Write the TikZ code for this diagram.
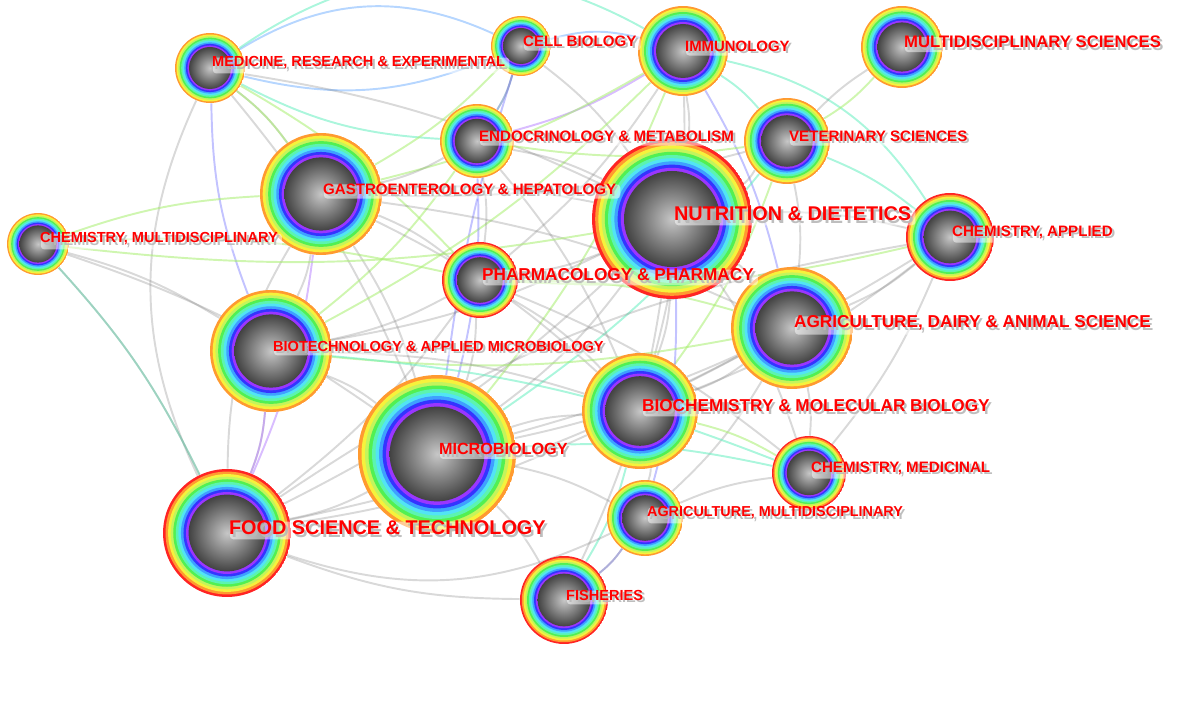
\documentclass[tikz,border=0pt]{standalone}
\usepackage{fontspec}
\setmainfont{Liberation Sans}
\usepackage{tikz}
\usetikzlibrary{calc}
\pgfdeclarelayer{background}
\pgfsetlayers{background,main}
\definecolor{rgred}{HTML}{FF2424}
\definecolor{rgorange}{HTML}{FF9A30}
\definecolor{rgyellow}{HTML}{F6F23C}
\definecolor{rglime}{HTML}{C4F45C}
\definecolor{rggreen}{HTML}{52F052}
\definecolor{rgmint}{HTML}{5CF4B0}
\definecolor{rgcyan}{HTML}{52E4F4}
\definecolor{rgsky}{HTML}{3FA0FF}
\definecolor{rgblue}{HTML}{3434FF}
\definecolor{rgpurple}{HTML}{9A36FF}
\definecolor{eglime}{HTML}{A8EE70}
\definecolor{egmint}{HTML}{66EEC0}
\definecolor{egsky}{HTML}{7AB4FF}
\definecolor{egblue}{HTML}{8888FF}
\definecolor{egpurple}{HTML}{B47CFF}
% concentric year rings: radius (px), ring step, colours
\newcommand{\rings}[3]{%
  \foreach \c [count=\i] in {#3}{%
    \pgfmathsetmacro{\rr}{#1*(1-#2*(\i-1))*0.02}%
    \fill[\c] (path picture bounding box.center) circle[radius=\rr cm];}%
  \pgfmathsetmacro{\rr}{#1*0.6*0.02}%
  \shade[inner color=black!22, outer color=black!74] (path picture bounding box.center) circle[radius=\rr cm];}
% label with its shadow
\newcommand{\tagit}[3]{%
  \node[tagsh, font=\fontsize{#2}{#2}\selectfont\bfseries] (#1-sh) at ([xshift=1.4pt, yshift=0.05cm]#1.center) {#3};
  \node[tagtx, font=\fontsize{#2}{#2}\selectfont\bfseries] (#1-tag) at ([yshift=0.1cm]#1.center) {#3};}

\begin{document}
\begin{tikzpicture}[x=0.02cm, y=-0.02cm,
    hub/.style={circle, inner sep=0pt, minimum size=#1*0.04cm,
      path picture={\rings{#1}{0.04}{rgred,rgorange,rgyellow,rglime,rggreen,rgmint,rgcyan,rgsky,rgblue,rgpurple}}},
    hubo/.style={circle, inner sep=0pt, minimum size=#1*0.04cm,
      path picture={\rings{#1}{0.0444}{rgorange,rgyellow,rglime,rggreen,rgmint,rgcyan,rgsky,rgblue,rgpurple}}},
    tagsh/.style={anchor=west, inner sep=1pt, text=black!28, fill=white, fill opacity=.5, text opacity=.9, rounded corners=2pt},
    tagtx/.style={anchor=west, inner sep=1pt, text=red},
    lim/.style={draw=eglime, draw opacity=.55},
    mnt/.style={draw=egmint, draw opacity=.55},
    sky/.style={draw=egsky, draw opacity=.55},
    blu/.style={draw=egblue, draw opacity=.5},
    prp/.style={draw=egpurple, draw opacity=.5}]
  \useasboundingbox (0,0) rectangle (1188,716);

  \node[hubo=35] (med) at (210,68) {};
  \node[hubo=30] (cell) at (521,46) {};
  \node[hubo=45] (immu) at (683,51) {};
  \node[hubo=41] (multi) at (902,47) {};
  \node[hubo=37] (endo) at (477,141) {};
  \node[hubo=43] (vet) at (787,141) {};
  \node[hubo=61] (gastro) at (321,194) {};
  \node[hub=80] (nutr) at (672,219) {};
  \node[hubo=31] (chemmulti) at (38,244) {};
  \node[hub=44] (chemapp) at (950,237) {};
  \node[hub=38] (pharm) at (480,280) {};
  \node[hubo=61] (agridairy) at (792,328) {};
  \node[hubo=61] (biotech) at (271,351) {};
  \node[hubo=79] (micro) at (437,454) {};
  \node[hubo=58] (biochem) at (640,411) {};
  \node[hub=37] (chemmed) at (809,473) {};
  \node[hub=64] (food) at (227,533) {};
  \node[hubo=38] (agrimulti) at (645,518) {};
  \node[hub=44] (fish) at (564,600) {};

  \begin{pgfonlayer}{background}
  \begin{scope}[every edge/.style={draw=gray, line width=1.1pt, draw opacity=.3, bend left=8}]
    \path (med) edge[sky, bend left=28] (cell) edge[mnt, bend left=32] (immu) edge[sky, bend right=18] (cell)
          edge[mnt, bend right=12] (endo) edge[blu, bend right=10] (biotech) edge (gastro) edge[lim] (gastro)
          edge (nutr) edge[lim] (pharm) edge (micro) edge[bend right=25] (food);
    \path (cell) edge[sky, bend left=15] (immu) edge[sky] (endo) edge (nutr) edge[blu, bend right=5] (micro)
          edge[lim] (gastro) edge (endo);
    \path (immu) edge (nutr) edge[prp] (endo) edge[mnt] (vet) edge[mnt, bend left=22] (chemapp)
          edge (biochem) edge[lim] (micro) edge (pharm) edge[lim] (biotech) edge[lim] (gastro) edge[blu] (agridairy);
    \path (multi) edge[lim] (vet) edge[bend right=6] (vet);
    \path (vet) edge (nutr) edge (agridairy) edge[lim] (biochem) edge[lim] (endo) edge[mnt] (micro)
          edge[mnt] (chemapp) edge (gastro);
    \path (endo) edge (nutr) edge (pharm) edge[blu] (micro) edge (biochem) edge (gastro) edge[lim] (biotech);
    \path (gastro) edge (nutr) edge (biotech) edge (micro) edge (pharm) edge[bend right=15] (food)
          edge (biochem) edge[prp] (food) edge (agridairy);
    \path (nutr) edge (chemapp) edge (agridairy) edge (biochem) edge (micro) edge (pharm) edge (food)
          edge (biotech) edge (chemmed) edge[blu] (agrimulti) edge (fish) edge[lim] (chemmulti);
    \path (chemapp) edge (agridairy) edge (biochem) edge[bend right=12] (food) edge (micro) edge (chemmed)
          edge[lim] (pharm);
    \path (chemmulti) edge (biotech) edge[lim] (pharm) edge (micro) edge[mnt] (food) edge (food)
          edge[lim] (gastro);
    \path (pharm) edge (biotech) edge (micro) edge (biochem) edge (chemmed) edge (food) edge[lim] (agridairy);
    \path (agridairy) edge (biochem) edge (food) edge (agrimulti) edge (micro) edge (chemmed) edge[lim] (biotech);
    \path (biotech) edge (micro) edge (food) edge (biochem) edge[mnt] (chemmed) edge[prp] (food);
    \path (micro) edge (food) edge (biochem) edge (agrimulti) edge[mnt] (chemmed) edge (fish);
    \path (biochem) edge[lim] (chemmed) edge (agrimulti) edge (food) edge[mnt] (fish);
    \path (food) edge[bend right=22] (agrimulti) edge[bend right=10] (fish);
    \path (agrimulti) edge[blu] (fish) edge (fish) edge (chemmed);
  \end{scope}
  \end{pgfonlayer}

  \tagit{med}{8.3}{MEDICINE, RESEARCH \& EXPERIMENTAL}
  \tagit{cell}{8.6}{CELL BIOLOGY}
  \tagit{immu}{8.5}{IMMUNOLOGY}
  \tagit{multi}{9.5}{MULTIDISCIPLINARY SCIENCES}
  \tagit{endo}{8.6}{ENDOCRINOLOGY \& METABOLISM}
  \tagit{vet}{8.6}{VETERINARY SCIENCES}
  \tagit{gastro}{8.6}{GASTROENTEROLOGY \& HEPATOLOGY}
  \tagit{nutr}{11.3}{NUTRITION \& DIETETICS}
  \tagit{chemmulti}{8.3}{CHEMISTRY, MULTIDISCIPLINARY}
  \tagit{chemapp}{8.6}{CHEMISTRY, APPLIED}
  \tagit{pharm}{9.8}{PHARMACOLOGY \& PHARMACY}
  \tagit{agridairy}{9.8}{AGRICULTURE, DAIRY \& ANIMAL SCIENCE}
  \tagit{biotech}{8.3}{BIOTECHNOLOGY \& APPLIED MICROBIOLOGY}
  \tagit{micro}{9.2}{MICROBIOLOGY}
  \tagit{biochem}{9.8}{BIOCHEMISTRY \& MOLECULAR BIOLOGY}
  \tagit{chemmed}{8.6}{CHEMISTRY, MEDICINAL}
  \tagit{food}{11.3}{FOOD SCIENCE \& TECHNOLOGY}
  \tagit{agrimulti}{8.2}{AGRICULTURE, MULTIDISCIPLINARY}
  \tagit{fish}{8.3}{FISHERIES}
\end{tikzpicture}
\end{document}
